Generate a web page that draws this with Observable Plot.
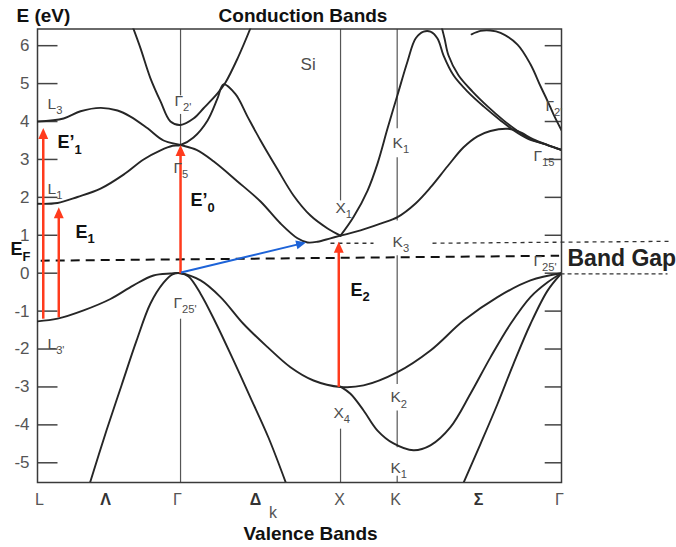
<!DOCTYPE html>
<html>
<head>
<meta charset="utf-8">
<script src="https://cdn.jsdelivr.net/npm/d3@7"></script>
<script src="https://cdn.jsdelivr.net/npm/@observablehq/plot@0.6"></script>
<style>
  html, body { margin: 0; padding: 0; background: #fff; }
  #chart svg { display: block; }
</style>
</head>
<body>
<div id="chart"></div>
<script>
// Band structure of silicon along L–Γ–X–K–Γ.
// k is measured along the path (Γ–X = 1), energies in eV.

// Conduction bands, [k, E]
const bandGamma2Left = [[0.594,6.51],[0.644,5.93],[0.706,5.14],[0.769,4.53],[0.831,4.0],[0.894,3.91],[0.975,4.08],[1.038,4.35],[1.125,4.74],[1.175,5.03],[1.25,5.66],[1.331,6.46],[1.35,6.67]];
const bandL3 = [[0,4.0],[0.163,4.08],[0.269,4.27],[0.394,4.36],[0.5,4.29],[0.581,4.13],[0.688,3.82],[0.788,3.5],[0.894,3.38],[0.994,3.25],[1.1,2.95],[1.25,2.42],[1.394,1.89],[1.519,1.31],[1.625,0.92],[1.688,0.81],[1.75,0.83],[1.831,0.92],[1.894,0.99]];
const bandL1 = [[0,1.83],[0.125,1.85],[0.25,2.01],[0.394,2.23],[0.538,2.6],[0.663,3.0],[0.769,3.24],[0.844,3.36],[0.894,3.38],[0.975,3.58],[1.063,4.03],[1.125,4.61],[1.1625,4.98],[1.2375,4.72],[1.3125,4.13],[1.394,3.5],[1.5,2.74],[1.6,2.05],[1.706,1.52],[1.813,1.18],[1.894,0.99]];
const bandX1Steep = [[1.894,0.99],[1.975,1.48],[2.063,2.18],[2.125,2.89],[2.188,3.82],[2.25,4.70],[2.313,5.59],[2.363,6.19],[2.413,6.37],[2.456,6.37],[2.5,6.19],[2.538,5.74],[2.6,5.22],[2.688,4.79],[2.788,4.40],[2.894,4.03],[2.975,3.77],[3.063,3.55],[3.188,3.38],[3.275,3.25]];
const bandUpper = [[2.525,6.51],[2.544,6.19],[2.569,5.74],[2.631,5.22],[2.719,4.79],[2.813,4.40],[2.913,4.03],[2.994,3.77],[3.075,3.55],[3.188,3.38],[3.275,3.25]];
const bandX1Gentle = [[1.894,0.99],[2.019,1.13],[2.144,1.31],[2.25,1.48],[2.363,1.84],[2.456,2.26],[2.563,2.82],[2.663,3.32],[2.75,3.61],[2.831,3.75],[2.938,3.81],[3.006,3.74],[3.1,3.53],[3.188,3.38],[3.275,3.25]];
const bandGamma2Right = [[2.713,6.30],[2.769,6.39],[2.831,6.40],[2.894,6.34],[3.0,6.03],[3.081,5.51],[3.144,4.93],[3.188,4.54],[3.225,4.19],[3.275,3.77]];

// Valence bands, [k, E]
const bandV1 = [[0,-1.27],[0.125,-1.2],[0.288,-0.98],[0.456,-0.68],[0.6,-0.32],[0.725,-0.06],[0.831,-0.01],[0.894,0],[1.019,-0.19],[1.144,-0.63],[1.288,-1.34],[1.438,-1.95],[1.581,-2.48],[1.725,-2.83],[1.894,-3.0],[2.038,-2.96],[2.25,-2.61],[2.456,-2.04],[2.663,-1.25],[2.875,-0.63],[3.081,-0.19],[3.275,0]];
const bandV2 = [[0.319,-5.65],[0.431,-4.15],[0.525,-2.96],[0.619,-1.78],[0.706,-0.8],[0.788,-0.25],[0.844,-0.03],[0.894,0],[0.944,-0.09],[1.019,-0.54],[1.113,-1.3],[1.225,-2.3],[1.331,-3.28],[1.444,-4.34],[1.563,-5.65]];
const bandV3 = [[1.894,-2.99],[1.956,-3.18],[2.038,-3.62],[2.125,-4.15],[2.225,-4.49],[2.35,-4.67],[2.456,-4.54],[2.581,-4.06],[2.706,-3.18],[2.831,-2.22],[2.956,-1.34],[3.081,-0.63],[3.188,-0.24],[3.275,0]];
const bandV4 = [[2.65,-5.65],[2.769,-4.5],[2.875,-3.45],[2.975,-2.39],[3.081,-1.34],[3.188,-0.46],[3.275,0]];

// Energy ticks (eV)
const energyTicks = [-5,-4,-3,-2,-1,0,1,2,3,4,5,6];

// Labels along the k path: symmetry points and the lines between them
const pathPoints = [
  {name:"L", k:0.0125}, {name:"Γ", k:0.875}, {name:"X", k:1.8875}, {name:"K", k:2.2375}, {name:"Γ", k:3.2625}
];
const pathLines = [
  {name:"Λ", k:0.425}, {name:"Δ", k:1.3625}, {name:"Σ", k:2.756}
];

// Symmetry lines (k, from E, to E), broken where the point labels sit
const symmetryLines = [
  {k:0.894, e1:6.44, e2:4.69}, {k:0.894, e1:4.2, e2:3.38}, {k:0.894, e1:-1.2, e2:-5.52},
  {k:1.894, e1:6.44, e2:1.92}, {k:1.894, e1:-4.1, e2:-5.52},
  {k:2.248, e1:6.44, e2:3.82}, {k:2.248, e1:3.06, e2:1.39}, {k:2.248, e1:0.47, e2:-2.92},
  {k:2.248, e1:-3.62, e2:-4.59}, {k:2.248, e1:-5.34, e2:-5.52}
];

// Critical-point labels ("_" starts the subscript)
const pointLabels = [
  {t:"L_3", k:0.0625, e:4.34}, {t:"Γ_2'", k:0.856, e:4.40}, {t:"Γ_5", k:0.85, e:2.63},
  {t:"L_1", k:0.0625, e:2.1}, {t:"Γ_25'", k:0.85, e:-0.93}, {t:"L_3'", k:0.0625, e:-1.99},
  {t:"X_1", k:1.8625, e:1.58}, {t:"K_1", k:2.219, e:3.29}, {t:"K_3", k:2.219, e:0.68},
  {t:"X_4", k:1.85, e:-3.81}, {t:"K_2", k:2.206, e:-3.41}, {t:"K_1", k:2.206, e:-5.26},
  {t:"Γ_2'", k:3.175, e:4.29}, {t:"Γ_15", k:3.1, e:2.95}, {t:"Γ_25'", k:3.1, e:0.2}
];

// Direct optical transitions (vertical, at fixed k)
const transitions = [
  {k:0.036, from:-1.2, to:3.83},
  {k:0.133, from:-1.16, to:1.74},
  {k:0.894, from:0, to:3.38},
  {k:1.883, from:-3.0, to:0.83}
];
const transitionLabels = [
  {t:"E’_1", k:0.125, e:3.29}, {t:"E_1", k:0.2375, e:0.94},
  {t:"E’_0", k:0.956, e:1.76}, {t:"E_2", k:1.956, e:-0.59}, {t:"E_F", k:-0.169, e:0.47}
];

// Indirect gap: valence maximum at Γ to conduction minimum along Δ
const indirectGap = [{k1:0.897, e1:0.02, k2:1.678, e2:0.81}];

// Fermi level and band-gap guides
const fermiLevel = [{k1:0.02, e1:0.33, k2:3.26, e2:0.46}];
const gapTop = [{k1:1.831, e1:0.79, k2:2.1, e2:0.79}, {k1:2.469, e1:0.79, k2:3.944, e2:0.84}];
const gapBottom = [{k1:3.269, e1:-0.02, k2:3.9375, e2:-0.02}];

// ---- layout ----
const W = 676, H = 547;
const xOpts = {domain:[0, 3.275], range:[37, 561]};
const yOpts = {domain:[-5.52, 6.44], range:[482, 28.5]};
const xs = Plot.scale({x: xOpts});
const ys = Plot.scale({y: yOpts});

const RED = "#ff3b1d", BLUE = "#1d63d8", INK = "#262626", GREY = "#4d4d4d";
const FONT = "Liberation Sans, Arial, Helvetica, sans-serif";

// filled arrowhead, tip at the origin, pointing up
const headShape = {
  draw(ctx, size) {
    const s = Math.sqrt(size);
    ctx.moveTo(0, 0);
    ctx.lineTo(0.7 * s, 1.55 * s);
    ctx.lineTo(-0.7 * s, 1.55 * s);
    ctx.closePath();
  }
};

// shaft stops inside the head; angle turns the head along the arrow
function arrowGeometry(k1, e1, k2, e2, back) {
  const x1 = xs.apply(k1), y1 = ys.apply(e1), x2 = xs.apply(k2), y2 = ys.apply(e2);
  const len = Math.hypot(x2 - x1, y2 - y1), t = (len - back) / len;
  return {
    k1, e1, k2, e2,
    kEnd: xs.invert(x1 + (x2 - x1) * t),
    eEnd: ys.invert(y1 + (y2 - y1) * t),
    angle: Math.atan2(x2 - x1, -(y2 - y1)) * 180 / Math.PI
  };
}
const redArrows = transitions.map(d => arrowGeometry(d.k, d.from, d.k, d.to, 7));
const blueArrows = indirectGap.map(d => arrowGeometry(d.k1, d.e1, d.k2, d.e2, 6));

const bands = [bandGamma2Left, bandL3, bandL1, bandX1Steep, bandUpper, bandX1Gentle, bandGamma2Right,
               bandV1, bandV2, bandV3, bandV4];

const plot = Plot.plot({
  width: W, height: H,
  marginLeft: 37, marginRight: 115, marginTop: 28.5, marginBottom: 65,
  x: {...xOpts, axis: null},
  y: {...yOpts, axis: null},
  style: {fontFamily: FONT, background: "#fff", overflow: "visible"},
  marks: [
    // symmetry lines
    Plot.link(symmetryLines, {x1:"k", x2:"k", y1:"e1", y2:"e2", stroke:"#555", strokeWidth:1.2}),
    // inward ticks on both sides
    Plot.link(energyTicks, {x1:0, x2:0.125, y1:d => d, y2:d => d, stroke:"#444", strokeWidth:1.5}),
    Plot.link(energyTicks, {x1:3.17, x2:3.275, y1:d => d, y2:d => d, stroke:"#444", strokeWidth:1.5}),
    Plot.frame({stroke:"#3a3a3a", strokeWidth:1.5}),
    // bands
    ...bands.map(b => Plot.line(b, {x:d => d[0], y:d => d[1], curve:"catmull-rom", stroke:INK, strokeWidth:1.9, clip:true})),
    // Fermi level and gap guides
    Plot.link(fermiLevel, {x1:"k1", y1:"e1", x2:"k2", y2:"e2", stroke:"#111", strokeWidth:2, strokeDasharray:"9,6"}),
    Plot.link(gapTop, {x1:"k1", y1:"e1", x2:"k2", y2:"e2", stroke:"#333", strokeWidth:1.3, strokeDasharray:"4,4"}),
    Plot.link(gapBottom, {x1:"k1", y1:"e1", x2:"k2", y2:"e2", stroke:"#333", strokeWidth:1.3, strokeDasharray:"4,3"}),
    // transitions
    Plot.link(redArrows, {x1:"k1", y1:"e1", x2:"kEnd", y2:"eEnd", stroke:RED, strokeWidth:2.5}),
    Plot.dot(redArrows, {x:"k2", y:"e2", symbol:headShape, r:4, fill:RED, stroke:"none", rotate:"angle"}),
    Plot.link(blueArrows, {x1:"k1", y1:"e1", x2:"kEnd", y2:"eEnd", stroke:BLUE, strokeWidth:2}),
    Plot.dot(blueArrows, {x:"k2", y:"e2", symbol:headShape, r:3.6, fill:BLUE, stroke:"none", rotate:"angle"}),
    // energy tick labels
    Plot.text(energyTicks, {x:0, y:d => d, text:d => d < 0 ? "-" + (-d) : String(d), dx:-8, textAnchor:"end",
      lineAnchor:"middle", fontSize:17, fill:"#555"}),
    // k path labels
    Plot.text(pathPoints, {x:"k", text:"name", frameAnchor:"bottom", dy:22, lineAnchor:"bottom", fontSize:16, fill:"#555"}),
    Plot.text(pathLines, {x:"k", text:"name", frameAnchor:"bottom", dy:22, lineAnchor:"bottom", fontSize:16, fontWeight:"bold", fill:"#333"}),
    Plot.text(["k"], {x:1.472, text:d => d, frameAnchor:"bottom", dy:35, lineAnchor:"bottom", fontSize:16, fill:"#555"}),
    // critical-point labels
    Plot.text(pointLabels, {x:"k", y:"e", text:"t", textAnchor:"start", lineAnchor:"bottom", fontSize:15.5, fill:GREY}),
    Plot.text(["Si"], {x:1.644, y:5.35, text:d => d, textAnchor:"start", lineAnchor:"bottom", fontSize:17, fill:GREY}),
    // transition labels
    Plot.text(transitionLabels, {x:"k", y:"e", text:"t", textAnchor:"start", lineAnchor:"bottom", fontSize:18, fontWeight:"bold", fill:"#111"}),
    Plot.text(["Band Gap"], {x:3.3125, y:0.18, text:d => d, textAnchor:"start", lineAnchor:"bottom", fontSize:23, fontWeight:"bold", fill:"#222"}),
    // headings
    Plot.text(["E (eV)"], {text:d => d, frameAnchor:"top-left", textAnchor:"start", lineAnchor:"bottom", dx:-21, dy:-7.5, fontSize:19, fontWeight:"bold", fill:"#111"}),
    Plot.text(["Conduction Bands"], {text:d => d, frameAnchor:"top", textAnchor:"middle", lineAnchor:"bottom", dx:3.5, dy:-7.5, fontSize:19, fontWeight:"bold", fill:"#111"}),
    Plot.text(["Valence Bands"], {text:d => d, frameAnchor:"bottom", textAnchor:"middle", lineAnchor:"bottom", dx:11, dy:57.5, fontSize:19, fontWeight:"bold", fill:"#111"})
  ]
});

// turn "base_sub" label text into a base + subscript pair
d3.select(plot).selectAll("text").each(function() {
  const s = this.textContent;
  const i = s.indexOf("_");
  if (i < 0) return;
  const base = s.slice(0, i), sub = s.slice(i + 1);
  this.textContent = "";
  const el = d3.select(this);
  el.append("tspan").text(base);
  el.append("tspan").attr("font-size", "72%").attr("dy", "0.45em").text(sub);
});

document.getElementById("chart").appendChild(plot);
</script>
</body>
</html>
